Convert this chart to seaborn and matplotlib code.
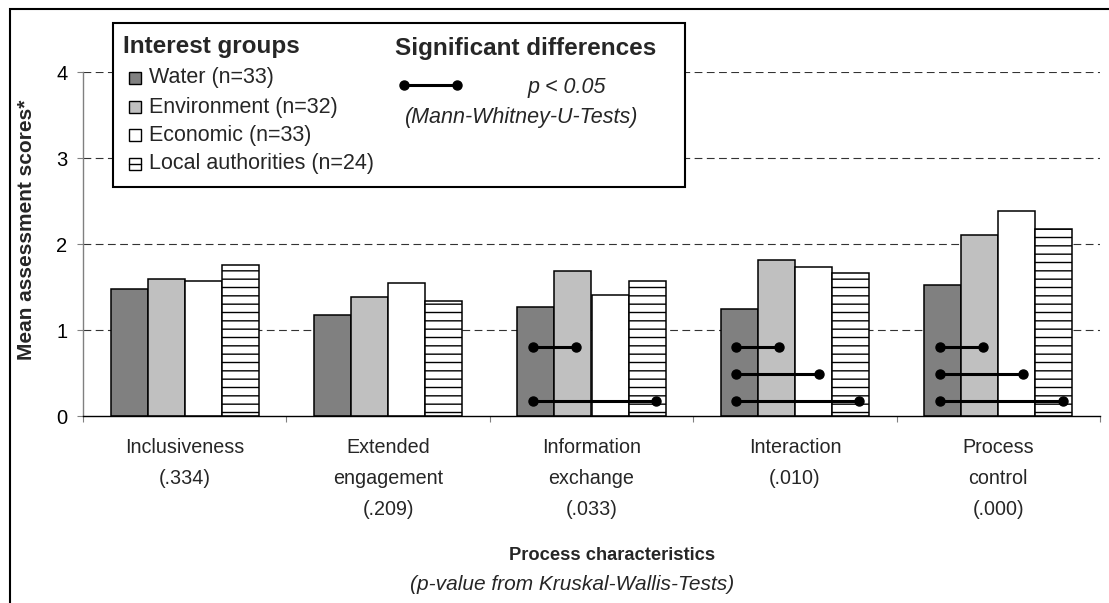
import numpy as np
import pandas as pd
import matplotlib
matplotlib.use("Agg")
import matplotlib.pyplot as plt
from matplotlib.patches import Rectangle
from matplotlib.lines import Line2D
import seaborn as sns

# ---- data -------------------------------------------------------------
characteristics = ["Inclusiveness", "Extended engagement", "Information exchange",
                   "Interaction", "Process control"]
tick_labels = ["Inclusiveness\n(.334)", "Extended\nengagement\n(.209)",
               "Information\nexchange\n(.033)", "Interaction\n(.010)",
               "Process\ncontrol\n(.000)"]
groups = ["Water (n=33)", "Environment (n=32)", "Economic (n=33)",
          "Local authorities (n=24)"]
water = [1.48, 1.17, 1.27, 1.25, 1.52]
environment = [1.59, 1.38, 1.69, 1.81, 2.10]
economic = [1.57, 1.55, 1.41, 1.73, 2.38]
local_auth = [1.76, 1.34, 1.57, 1.66, 2.17]

# significant pairwise differences (Mann-Whitney-U, p < 0.05):
# characteristic index, first group index, second group index
sig_char = [2, 2, 3, 3, 3, 4, 4, 4]
sig_from = [0, 0, 0, 0, 0, 0, 0, 0]
sig_to = [1, 3, 1, 2, 3, 1, 2, 3]

colors = ["#808080", "#c0c0c0", "#ffffff", "#ffffff"]

df = pd.DataFrame({
    "characteristic": np.repeat(characteristics, len(groups)),
    "group": groups * len(characteristics),
    "score": np.ravel(np.column_stack([water, environment, economic, local_auth])),
})

# ---- styling ----------------------------------------------------------
sns.set_theme(style="white")
plt.rcParams["font.family"] = ["Liberation Sans", "DejaVu Sans"]
plt.rcParams["hatch.color"] = "black"
plt.rcParams["hatch.linewidth"] = 1.0

W, H = 1109, 603
fig = plt.figure(figsize=(W / 100, H / 100), dpi=100)
fig.patch.set_facecolor("white")


def fx(x):
    return x / W


def fy(y):
    return 1 - y / H


ax = fig.add_axes([fx(83), fy(416), fx(1100) - fx(83), fy(72) - fy(416)])

sns.barplot(data=df, x="characteristic", y="score", hue="group",
            order=characteristics, hue_order=groups, palette=colors,
            saturation=1, edgecolor="black", linewidth=1.1, width=0.728,
            legend=False, ax=ax, zorder=3)

# horizontal hatching for local authorities
for bar in ax.containers[3]:
    bar.set_hatch("--")

ax.set_xlim(-0.5, len(characteristics) - 0.5)
ax.set_ylim(0, 4)
ax.set_xlabel("")
ax.set_ylabel("")

# dashed gridlines
ax.set_yticks([0, 1, 2, 3, 4])
for yv in [1, 2, 3, 4]:
    ax.axhline(yv, color="#333333", lw=0.8, dashes=(7, 4), zorder=1)
ax.tick_params(axis="y", which="major", length=4.3, width=0.8, color="#808080",
               labelsize=14.5, pad=7, left=True, labelcolor="black")

# x: boundary ticks (major), centred labels (minor)
ax.set_xticks(np.arange(-0.5, len(characteristics), 1.0))
ax.set_xticklabels([])
ax.set_xticks(np.arange(len(characteristics)), minor=True)
ax.set_xticklabels(tick_labels, minor=True, fontsize=14.2, linespacing=1.8)
ax.tick_params(axis="x", which="major", length=4.3, width=0.8, color="#808080",
               bottom=True, direction="out")
ax.tick_params(axis="x", which="minor", length=0, pad=16)

for s in ["top", "right"]:
    ax.spines[s].set_visible(False)
ax.spines["left"].set_color("#808080")
ax.spines["left"].set_linewidth(1.0)
ax.spines["bottom"].set_color("black")
ax.spines["bottom"].set_linewidth(1.0)
ax.spines["left"].set_zorder(4)
ax.spines["bottom"].set_zorder(4)

# significance bars, drawn from the bar centres
levels = {1: 0.80, 2: 0.49, 3: 0.18}
for c, a, b in zip(sig_char, sig_from, sig_to):
    pa = ax.containers[a][c]
    pb = ax.containers[b][c]
    xa = pa.get_x() + pa.get_width() / 2
    xb = pb.get_x() + pb.get_width() / 2
    xa2 = xa - 0.015
    xb2 = xa + (xb - xa) * 1.08
    ax.plot([xa2, xb2], [levels[b], levels[b]], color="black", lw=2.2,
            marker="o", ms=6.5, zorder=5, solid_capstyle="butt")

# axis titles
fig.text(fx(27), fy(230), "Mean assessment scores*", rotation=90,
         fontsize=15, fontweight="bold", ha="center", va="center")
fig.text(fx(612), fy(555), "Process characteristics", fontsize=13.2,
         fontweight="bold", ha="center", va="center")
fig.text(fx(572), fy(585), "(p-value from Kruskal-Wallis-Tests)", fontsize=15,
         fontstyle="italic", ha="center", va="center")

# ---- legend box ---------------------------------------------------------
fig.patches.append(Rectangle((fx(113), fy(187)), fx(685) - fx(113), fy(23) - fy(187),
                             transform=fig.transFigure, facecolor="white",
                             edgecolor="black", lw=1.5, zorder=5))
fig.text(fx(123), fy(47), "Interest groups", fontsize=17.5, fontweight="bold",
         ha="left", va="center", zorder=6)
row_y = [78, 107, 135, 164]
for name, col, yy in zip(groups, colors, row_y):
    fig.patches.append(Rectangle((fx(129), fy(yy + 6)), fx(141) - fx(129),
                                 fy(yy - 6) - fy(yy + 6), transform=fig.transFigure,
                                 facecolor=col, edgecolor="black", lw=1.0, zorder=6))
    fig.text(fx(149), fy(yy), name, fontsize=15.5, ha="left", va="center", zorder=6)
# middle stripe in the local authorities key
fig.lines.append(Line2D([fx(129), fx(141)], [fy(row_y[3]), fy(row_y[3])],
                        transform=fig.transFigure, color="black", lw=1.0, zorder=7))

fig.text(fx(395), fy(48), "Significant differences", fontsize=17.5,
         fontweight="bold", ha="left", va="center", zorder=6)
fig.lines.append(Line2D([fx(404), fx(457)], [fy(85), fy(85)], transform=fig.transFigure,
                        color="black", lw=2.2, marker="o", ms=6.5, zorder=7))
fig.text(fx(528), fy(88), "p < 0.05", fontsize=15.5, fontstyle="italic",
         ha="left", va="center", zorder=6)
fig.text(fx(522), fy(117), "(Mann-Whitney-U-Tests)", fontsize=15.5,
         fontstyle="italic", ha="center", va="center", zorder=6)

# outer frame
fig.patches.append(Rectangle((fx(10), fy(640)), fx(1140) - fx(10), fy(9) - fy(640),
                             transform=fig.transFigure, fill=False,
                             edgecolor="black", lw=1.5, zorder=8))

fig.savefig("out.png", dpi=100)
